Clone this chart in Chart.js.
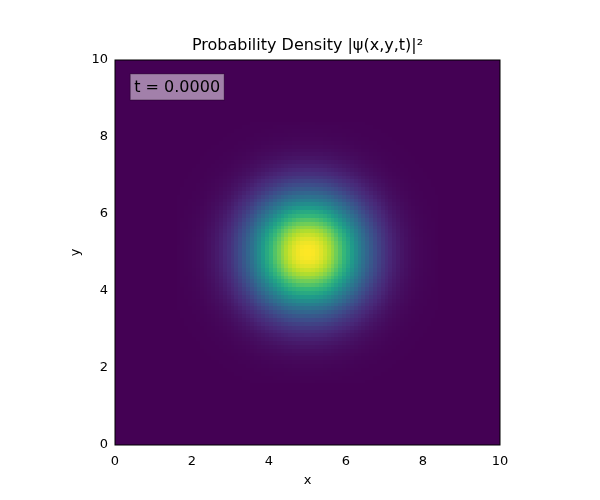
<!DOCTYPE html>
<html>
<head>
<meta charset="utf-8">
<script src="https://cdn.jsdelivr.net/npm/chart.js@4/dist/chart.umd.min.js"></script>
<style>
  body { margin: 0; background: #fff; }
</style>
</head>
<body>
<canvas id="densityChart" width="600" height="500"></canvas>
<script>
// Grid: 100 x 100 cells over [0,10] x [0,10], centred at (5,5)
const gridSize = 100;
const cellWidth = 0.1;
// Half-profile of sqrt(density) from the centre outwards, one value per cell
const halfProfile = [1, 0.995, 0.98, 0.956, 0.923, 0.882, 0.835, 0.783, 0.726, 0.667,
  0.607, 0.546, 0.487, 0.43, 0.375, 0.325, 0.278, 0.236, 0.198, 0.164,
  0.135, 0.11, 0.089, 0.071, 0.056, 0.044, 0.034, 0.026, 0.02, 0.015,
  0.011, 0.0082, 0.006, 0.0043];
const xTicks = [0, 2, 4, 6, 8, 10];
const yTicks = [0, 2, 4, 6, 8, 10];
const timeLabel = "t = 0.0000";

// viridis anchors
const viridis = [[68,1,84],[72,40,120],[62,74,137],[49,104,142],[38,130,142],
  [31,158,137],[53,183,121],[109,205,89],[180,222,44],[253,231,37]];
function viridisColor(v) {
  v = Math.max(0, Math.min(1, v)) * (viridis.length - 1);
  const i = Math.min(Math.floor(v), viridis.length - 2), f = v - i;
  const c = viridis[i].map((a, k) => Math.round(a + (viridis[i + 1][k] - a) * f));
  return `rgb(${c[0]},${c[1]},${c[2]})`;
}
function profileAt(i) {
  const k = Math.floor(Math.abs(i - (gridSize - 1) / 2));
  return k < halfProfile.length ? halfProfile[k] : 0;
}

const heatmapPlugin = {
  id: "heatmap",
  beforeDatasetsDraw(chart) {
    const { ctx, scales: { x, y }, chartArea } = chart;
    ctx.save();
    for (let i = 0; i < gridSize; i++) {
      for (let j = 0; j < gridSize; j++) {
        const v = profileAt(i) * profileAt(j);
        const x0 = Math.round(x.getPixelForValue(i * cellWidth)), x1 = Math.round(x.getPixelForValue((i + 1) * cellWidth));
        const y0 = Math.round(y.getPixelForValue((j + 1) * cellWidth)), y1 = Math.round(y.getPixelForValue(j * cellWidth));
        ctx.fillStyle = viridisColor(v);
        ctx.fillRect(x0, y0, x1 - x0, y1 - y0);
      }
    }
    // frame
    ctx.strokeStyle = "#000";
    ctx.lineWidth = 1;
    ctx.strokeRect(chartArea.left, chartArea.top, chartArea.right - chartArea.left, chartArea.bottom - chartArea.top);
    // title
    ctx.fillStyle = "#000";
    ctx.font = "16px 'DejaVu Sans'";
    ctx.textAlign = "center";
    ctx.textBaseline = "bottom";
    ctx.fillText("Probability Density |ψ(x,y,t)|²", (chartArea.left + chartArea.right) / 2, chartArea.top - 6);
    // time box
    ctx.textAlign = "left";
    ctx.textBaseline = "middle";
    const tx = x.getPixelForValue(0.5), ty = y.getPixelForValue(9.3);
    const w = ctx.measureText(timeLabel).width;
    ctx.fillStyle = "rgba(255,255,255,0.5)";
    ctx.fillRect(tx - 4, ty - 13, w + 8, 26);
    ctx.strokeStyle = "rgba(0,0,0,0.3)";
    ctx.strokeRect(tx - 4, ty - 13, w + 8, 26);
    ctx.fillStyle = "#000";
    ctx.fillText(timeLabel, tx, ty + 1);
    ctx.restore();
  }
};

new Chart(document.getElementById("densityChart"), {
  type: "scatter",
  data: { datasets: [{ data: [] }] },
  plugins: [heatmapPlugin],
  options: {
    responsive: false,
    animation: false,
    devicePixelRatio: 1,
    layout: { padding: { left: 68, right: 100, top: 60, bottom: 12 } },
    plugins: { legend: { display: false }, tooltip: { enabled: false } },
    scales: {
      x: {
        type: "linear", min: 0, max: 10,
        afterBuildTicks: s => { s.ticks = xTicks.map(v => ({ value: v })); },
        afterFit: s => { s.height = 43; },
        grid: { display: false, drawTicks: true, tickLength: 4, tickColor: "#000" },
        border: { display: false },
        ticks: { color: "#000", font: { size: 13, family: "DejaVu Sans" }, padding: 5 },
        title: { display: true, text: "x", color: "#000", font: { size: 13, family: "DejaVu Sans" }, padding: 0 }
      },
      y: {
        type: "linear", min: 0, max: 10,
        afterBuildTicks: s => { s.ticks = yTicks.map(v => ({ value: v })); },
        afterFit: s => { s.width = 47; },
        grid: { display: false, drawTicks: true, tickLength: 4, tickColor: "#000" },
        border: { display: false },
        ticks: { color: "#000", font: { size: 13, family: "DejaVu Sans" }, padding: 3 },
        title: { display: true, text: "y", color: "#000", font: { size: 13, family: "DejaVu Sans" }, padding: 0 }
      }
    }
  }
});
</script>
</body>
</html>
